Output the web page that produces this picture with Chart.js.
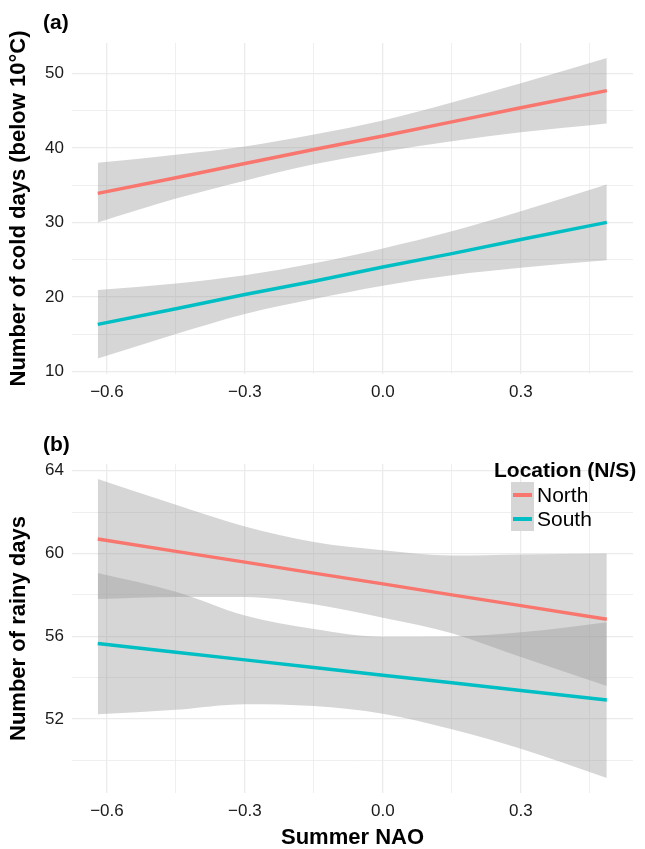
<!DOCTYPE html>
<html>
<head>
<meta charset="utf-8">
<script src="https://cdn.jsdelivr.net/npm/chart.js@4.4.0/dist/chart.umd.min.js"></script>
<style>
  body { margin: 0; background: #fff; font-family: "Liberation Sans", Arial, sans-serif; }
  #wrap { position: relative; width: 645px; height: 849px; overflow: hidden; }
  canvas { position: absolute; left: 0; }
  .tag { position: absolute; left: 43px; font-weight: bold; font-size: 21px; line-height: 21px; color: #000; }
  #legend .ltitle { position: absolute; left: 494px; top: 459px; font-weight: bold; font-size: 21px; line-height: 22px; white-space: nowrap; }
  #legend .lkey { position: absolute; left: 511px; top: 482px; width: 23px; height: 49px; background: #d6d6d6; }
  #legend .lline { position: absolute; left: 513px; width: 19px; height: 3.5px; }
  #legend .llab { position: absolute; left: 537px; font-size: 21px; line-height: 22px; }
</style>
</head>
<body>
<div id="wrap">
  <canvas id="cold" width="645" height="420" style="top:0"></canvas>
  <canvas id="rain" width="645" height="429" style="top:420px"></canvas>
  <div class="tag" style="top:11px">(a)</div>
  <div class="tag" style="top:433px">(b)</div>
  <div id="legend">
    <div class="ltitle">Location (N/S)</div>
    <div class="lkey"></div>
    <div class="lline" style="top:493px;background:#F8766D"></div>
    <div class="lline" style="top:517px;background:#00BFC4"></div>
    <div class="llab" style="top:484px">North</div>
    <div class="llab" style="top:508px">South</div>
  </div>
</div>
<script>
// Summer NAO values where the curves were read
const naoX = [-0.62, -0.45, -0.3, -0.15, 0, 0.15, 0.3, 0.487];

// (a) cold days below 10°C
const coldNorthFit   = [33.9, 36.0, 37.9, 39.8, 41.6, 43.5, 45.4, 47.7];
const coldNorthUpper = [38.0, 39.1, 40.2, 41.8, 43.7, 46.1, 48.7, 52.1];
const coldNorthLower = [30.0, 33.2, 35.6, 37.8, 39.5, 40.9, 42.1, 43.3];
const coldSouthFit   = [16.3, 18.4, 20.3, 22.1, 24.0, 25.8, 27.7, 30.0];
const coldSouthUpper = [20.9, 21.8, 22.9, 24.5, 26.5, 28.8, 31.5, 35.1];
const coldSouthLower = [11.7, 15.0, 17.7, 19.7, 21.5, 22.9, 23.9, 24.9];

// (b) rainy days
const rainNorthFit   = [60.70, 60.10, 59.58, 59.05, 58.53, 58.00, 57.48, 56.82];
const rainNorthUpper = [63.60, 62.35, 61.30, 60.55, 60.15, 59.90, 59.95, 60.00];
const rainNorthLower = [57.80, 57.90, 57.90, 57.55, 56.90, 56.15, 55.00, 53.60];
const rainSouthFit   = [55.65, 55.23, 54.86, 54.49, 54.12, 53.75, 53.38, 52.92];
const rainSouthUpper = [59.05, 58.15, 57.00, 56.35, 55.98, 55.99, 56.19, 56.68];
const rainSouthLower = [52.23, 52.45, 52.72, 52.63, 52.26, 51.51, 50.57, 49.16];

// ticks (blank label = minor grid line)
const xTickValues = [-0.6, -0.45, -0.3, -0.15, 0, 0.15, 0.3, 0.45];
const xTickLabels = ['\u22120.6', '', '\u22120.3', '', '0.0', '', '0.3', ''];
const coldTickValues = [10, 15, 20, 25, 30, 35, 40, 45, 50];
const coldTickLabels = ['10', '', '20', '', '30', '', '40', '', '50'];
const rainTickValues = [50, 52, 54, 56, 58, 60, 62, 64];
const rainTickLabels = ['', '52', '', '56', '', '60', '', '64'];

const NORTH = '#F8766D';
const SOUTH = '#00BFC4';
const BAND = 'rgba(153,153,153,0.4)';
const FONT = '"Liberation Sans", Arial, sans-serif';

function pts(ys) {
    return naoX.map((x, i) => ({ x: x, y: ys[i] }));
}

function band(ys, fill) {
    return {
        data: pts(ys), showLine: true, fill: fill, backgroundColor: BAND,
        borderWidth: 0, pointRadius: 0, cubicInterpolationMode: 'monotone', order: 1
    };
}

function fitLine(ys, color) {
    return {
        data: pts(ys), showLine: true, fill: false, borderColor: color,
        borderWidth: 3.5, borderCapStyle: 'butt', pointRadius: 0, order: 0
    };
}

function gridOpts() {
    return {
        drawTicks: false,
        color: '#ebebeb',
        lineWidth: (c) => (c.tick && c.tick.label === '' ? 0.8 : 1.3)
    };
}

function makeChart(id, cfg) {
    const tickFont = { family: FONT, size: 17 };
    const titleFont = { family: FONT, size: 22, weight: 'bold', lineHeight: 1 };
    return new Chart(document.getElementById(id), {
        type: 'scatter',
        data: {
            datasets: [
                band(cfg.nUp, '+1'), band(cfg.nLo, false),
                band(cfg.sUp, '+1'), band(cfg.sLo, false),
                fitLine(cfg.nFit, NORTH), fitLine(cfg.sFit, SOUTH)
            ]
        },
        options: {
            responsive: false,
            animation: false,
            layout: { padding: { top: cfg.top, right: 12, left: 8, bottom: 0 } },
            plugins: { legend: { display: false }, tooltip: { enabled: false } },
            scales: {
                x: {
                    type: 'linear', min: -0.676, max: 0.544,
                    afterBuildTicks: (s) => { s.ticks = xTickValues.map(v => ({ value: v })); },
                    afterFit: (s) => { s.height = cfg.xHeight; },
                    ticks: {
                        autoSkip: false, maxRotation: 0, padding: 8, color: '#1a1a1a', font: tickFont,
                        callback: (v, i) => xTickLabels[i]
                    },
                    grid: gridOpts(),
                    border: { display: false },
                    title: { display: !!cfg.xTitle, text: cfg.xTitle, color: '#000', font: titleFont, padding: 0 }
                },
                y: {
                    type: 'linear', min: cfg.yMin, max: cfg.yMax,
                    afterBuildTicks: (s) => { s.ticks = cfg.yTicks.map(v => ({ value: v })); },
                    afterFit: (s) => { s.width = 64; },
                    ticks: {
                        autoSkip: false, padding: 8, color: '#1a1a1a', font: tickFont,
                        callback: (v, i) => cfg.yLabels[i]
                    },
                    grid: gridOpts(),
                    border: { display: false },
                    title: { display: true, text: cfg.yTitle, color: '#000', font: titleFont, padding: 0 }
                }
            }
        }
    });
}

makeChart('cold', {
    nFit: coldNorthFit, nUp: coldNorthUpper, nLo: coldNorthLower,
    sFit: coldSouthFit, sUp: coldSouthUpper, sLo: coldSouthLower,
    yMin: 9.63, yMax: 54.1, yTicks: coldTickValues, yLabels: coldTickLabels,
    yTitle: 'Number of cold days (below 10\u00b0C)', xTitle: '',
    top: 43, xHeight: 46
});

makeChart('rain', {
    nFit: rainNorthFit, nUp: rainNorthUpper, nLo: rainNorthLower,
    sFit: rainSouthFit, sUp: rainSouthUpper, sLo: rainSouthLower,
    yMin: 48.43, yMax: 64.32, yTicks: rainTickValues, yLabels: rainTickLabels,
    yTitle: 'Number of rainy days', xTitle: 'Summer NAO',
    top: 44, xHeight: 56
});
</script>
</body>
</html>
